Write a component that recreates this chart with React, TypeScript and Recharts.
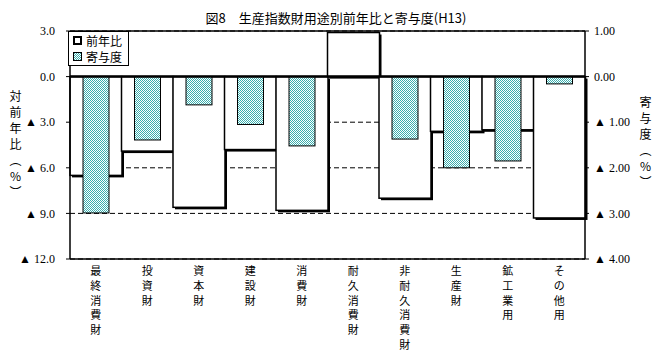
import React from 'react';
import { ComposedChart, Bar, XAxis, YAxis, CartesianGrid, ReferenceLine } from 'recharts';

const categories = ['最終消費財', '投資財', '資本財', '建設財', '消費財', '耐久消費財', '非耐久消費財', '生産財', '鉱工業用', 'その他用'];
const yoyValues = [-6.5, -4.9, -8.6, -4.8, -8.8, 2.9, -8.0, -3.6, -3.5, -9.3];
const contribValues = [-2.99, -1.39, -0.62, -1.05, -1.52, 0, -1.37, -2.0, -1.85, -0.16];
const leftTicks = [-12, -9, -6, -3, 0, 3];
const rightTicks = [-4, -3, -2, -1, 0, 1];
const title = '図8　生産指数財用途別前年比と寄与度(H13)';
const leftTitle = '対前年比（%）';
const rightTitle = '寄与度（%）';
const seriesNames = ['前年比', '寄与度'];

const data = categories.map((c, i) => ({ cat: c, yoy: yoyValues[i], contrib: contribValues[i] }));

const CJK = '"Noto Sans CJK JP", sans-serif';
const NUM = '"Liberation Serif", "DejaVu Serif", serif';

const fmtLeft = (v: number) => (v < 0 ? '▲ ' + (-v).toFixed(1) : v.toFixed(1));
const fmtRight = (v: number) => (v < 0 ? '▲ ' + (-v).toFixed(2) : v.toFixed(2));

const YoyShape = (p: any) => {
  const { x, y, width, height } = p;
  const top = Math.min(y, y + height);
  const h = Math.abs(height);
  return (
    <g>
      <rect x={x + 2} y={top + 2} width={width} height={h} fill="#000" />
      <rect x={x} y={top} width={width} height={h} fill="#fff" stroke="#000" strokeWidth={1.5} />
    </g>
  );
};

const ContribShape = (p: any) => {
  const { x, y, width, height } = p;
  const top = Math.min(y, y + height);
  const h = Math.abs(height);
  if (h < 0.5) return <g />;
  return <rect x={x} y={top} width={width} height={h} fill="url(#tealDots)" stroke="#000" strokeWidth={1} />;
};

const CatTick = (p: any) => {
  const { x, y, payload } = p;
  const chars = String(payload.value).split('');
  return (
    <text x={x} y={y} textAnchor="middle" fontSize={11} fontFamily={CJK} fill="#000">
      {chars.map((ch, i) => (
        <tspan key={i} x={x} dy={i === 0 ? 16 : 14.8}>{ch}</tspan>
      ))}
    </text>
  );
};

const vertTitle = (text: string, cx: number, top: number) => (
  <div style={{ position: 'absolute', left: cx - 8, top, width: 16, writingMode: 'vertical-rl', textOrientation: 'upright', fontSize: 12, lineHeight: '16px', letterSpacing: '4px', fontFamily: CJK, color: '#000', whiteSpace: 'nowrap' } as any}>{text}</div>
);

export default function App() {
  return (
    <div style={{ position: 'absolute', left: 0, top: 0, width: 662, height: 358, background: '#fff', overflow: 'hidden' }}>
      <svg width={0} height={0} style={{ position: 'absolute' }}>
        <defs>
          <pattern id="tealDots" x={0} y={0} width={2} height={2} patternUnits="userSpaceOnUse">
            <rect x={0} y={0} width={2} height={2} fill="#ffffff" />
            <rect x={0} y={0} width={1} height={1} fill="#3aaeae" />
            <rect x={1} y={1} width={1} height={1} fill="#3aaeae" />
          </pattern>
        </defs>
      </svg>
      <ComposedChart
        width={662}
        height={358}
        data={data}
        margin={{ top: 31, right: 0, bottom: 0, left: 0 }}
        barCategoryGap={0}
        barGap={0}
      >
        <CartesianGrid xAxisId="a" yAxisId="l" vertical={false} stroke="#000" strokeDasharray="5 3" />
        <XAxis xAxisId="a" dataKey="cat" interval={0} tickLine={false} tickSize={0} tickMargin={0} axisLine={{ stroke: '#000', strokeWidth: 1.5 }} height={99} tick={<CatTick />} />
        <XAxis xAxisId="b" dataKey="cat" hide />
        <YAxis yAxisId="l" orientation="left" domain={[-12, 3]} ticks={leftTicks} allowDataOverflow width={70} tickSize={4} tickMargin={11} tickFormatter={fmtLeft} axisLine={{ stroke: '#000', strokeWidth: 1.5 }} tickLine={{ stroke: '#000' }} tick={{ fontSize: 12, fill: '#000', fontFamily: NUM }} />
        <YAxis yAxisId="r" orientation="right" domain={[-4, 1]} ticks={rightTicks} allowDataOverflow width={77} tickSize={4} tickMargin={5} tickFormatter={fmtRight} axisLine={{ stroke: '#000', strokeWidth: 1.5 }} tickLine={{ stroke: '#000' }} tick={{ fontSize: 12, fill: '#000', fontFamily: NUM, textAnchor: 'start' }} />
        <Bar xAxisId="a" yAxisId="l" dataKey="yoy" name={seriesNames[0]} shape={<YoyShape />} isAnimationActive={false} />
        <Bar xAxisId="b" yAxisId="r" dataKey="contrib" name={seriesNames[1]} barSize={26} shape={<ContribShape />} isAnimationActive={false} />
        <ReferenceLine xAxisId="a" yAxisId="l" y={3} stroke="#000" strokeWidth={1.5} />
        <ReferenceLine xAxisId="a" yAxisId="l" y={0} stroke="#000" strokeWidth={2.5} />
      </ComposedChart>
      <div style={{ position: 'absolute', left: 0, top: 10, width: 672, textAlign: 'center', fontSize: 13, lineHeight: '16px', fontFamily: CJK, color: '#000', whiteSpace: 'nowrap' }}>{title}</div>
      {vertTitle(leftTitle, 15, 90)}
      {vertTitle(rightTitle, 645, 96)}
      <div style={{ position: 'absolute', left: 68, top: 31, width: 59, height: 33, border: '1px solid #000', background: '#fff', fontFamily: CJK, fontSize: 12, color: '#000' }}>
        <div style={{ position: 'absolute', left: 4, top: 4, width: 9, height: 9, boxSizing: 'border-box', border: '2px solid #000', background: '#fff' }} />
        <div style={{ position: 'absolute', left: 17, top: 1, lineHeight: '16px', whiteSpace: 'nowrap' }}>{seriesNames[0]}</div>
        <svg style={{ position: 'absolute', left: 4, top: 20 }} width={9} height={9}>
          <rect x={0.5} y={0.5} width={8} height={8} fill="url(#tealDots)" stroke="#000" strokeWidth={1} />
        </svg>
        <div style={{ position: 'absolute', left: 17, top: 17, lineHeight: '16px', whiteSpace: 'nowrap' }}>{seriesNames[1]}</div>
      </div>
    </div>
  );
}
